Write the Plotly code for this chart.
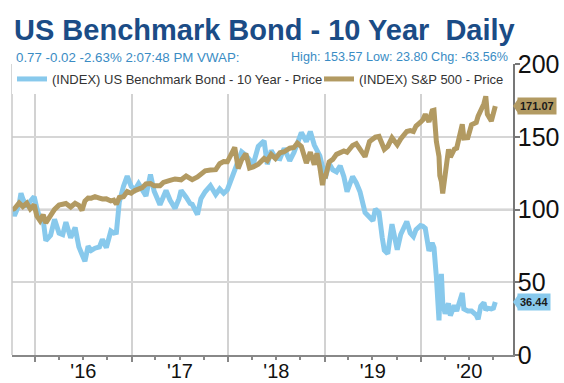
import plotly.graph_objects as go

# ---- data (normalised to 100 at start) ----
dates = [
    "2015-10-08", "2015-10-15", "2015-11-02", "2015-11-09", "2015-11-16", "2015-12-01", "2015-12-14", "2015-12-29",
    "2016-01-08", "2016-01-20", "2016-02-01", "2016-02-11", "2016-02-29", "2016-03-15", "2016-04-01", "2016-04-15",
    "2016-04-27", "2016-05-15", "2016-06-01", "2016-06-15", "2016-06-27", "2016-07-08", "2016-07-20", "2016-08-01",
    "2016-08-15", "2016-09-01", "2016-09-12", "2016-09-27", "2016-10-14", "2016-10-25", "2016-11-04", "2016-11-15",
    "2016-12-01", "2016-12-15", "2016-12-30",
    "2017-01-13", "2017-01-27", "2017-02-10", "2017-02-24", "2017-03-13", "2017-03-27", "2017-04-18", "2017-05-01",
    "2017-05-11", "2017-05-26", "2017-06-14", "2017-06-29", "2017-07-07", "2017-07-26", "2017-08-10", "2017-08-18",
    "2017-09-07", "2017-09-20", "2017-10-06", "2017-10-26", "2017-11-15", "2017-11-30", "2017-12-15", "2017-12-29",
    "2018-01-12", "2018-01-26", "2018-02-08", "2018-02-21", "2018-03-09", "2018-03-23", "2018-04-06", "2018-04-25",
    "2018-05-17", "2018-05-29", "2018-06-13", "2018-06-29", "2018-07-16", "2018-08-01", "2018-08-22", "2018-09-07",
    "2018-09-20", "2018-10-05", "2018-10-24", "2018-11-08", "2018-11-23", "2018-12-03", "2018-12-14", "2018-12-24",
    "2018-12-31",
    "2019-01-03", "2019-01-18", "2019-02-01", "2019-02-15", "2019-03-01", "2019-03-15", "2019-03-27", "2019-04-17",
    "2019-05-01", "2019-05-15", "2019-06-03", "2019-06-20", "2019-07-03", "2019-07-12", "2019-07-26", "2019-08-07",
    "2019-08-15", "2019-08-28", "2019-09-13", "2019-10-03", "2019-10-16", "2019-11-08", "2019-11-21", "2019-12-03",
    "2019-12-13", "2019-12-30",
    "2020-01-08", "2020-01-17", "2020-01-31", "2020-02-12", "2020-02-19", "2020-02-28", "2020-03-09", "2020-03-12",
    "2020-03-18", "2020-03-23", "2020-04-01", "2020-04-14", "2020-04-21", "2020-05-06", "2020-05-15", "2020-06-05",
    "2020-06-11", "2020-06-26", "2020-07-10", "2020-07-28", "2020-08-04", "2020-08-14", "2020-08-26", "2020-09-02",
    "2020-09-08", "2020-09-23", "2020-10-01", "2020-10-08",
]

bond_10y = [
    100.3, 95.6, 103.6, 111.2, 107.4, 101.7, 105.5, 108.8,
    100.8, 93.7, 92.8, 78.6, 82.3, 93.2, 83.8, 82.8,
    91.3, 80.5, 87.6, 74.3, 69.1, 64.4, 74.8, 71.9,
    73.4, 74.3, 79.5, 73.8, 85.2, 83.8, 84.2, 105.1,
    116.0, 123.0, 116.0,
    113.6, 117.8, 114.1, 109.3, 124.0, 112.6, 103.2, 109.8,
    113.1, 106.5, 100.8, 107.4, 113.1, 108.4, 104.1, 103.6,
    96.5, 107.4, 112.2, 116.4, 110.3, 114.1, 111.2, 113.6,
    120.7, 125.9, 133.9, 139.6, 137.2, 133.5, 131.1, 143.4,
    147.2, 131.1, 140.6, 135.4, 134.9, 142.0, 133.5, 139.1,
    145.3, 152.9, 146.7, 153.57, 144.3, 141.0, 136.8, 129.7,
    127.3,
    121.2, 131.6, 127.3, 125.9, 130.1, 122.6, 112.2, 122.6,
    118.3, 112.2, 98.0, 95.1, 92.3, 100.3, 98.0, 80.9,
    71.9, 69.6, 89.9, 72.4, 82.8, 91.8, 83.8, 81.4,
    86.1, 89.0,
    88.5, 87.1, 71.5, 77.1, 73.8, 53.5, 23.80, 40.2,
    55.8, 36.0, 28.4, 35.5, 27.0, 34.1, 30.3, 42.6,
    31.7, 30.3, 30.3, 27.4, 24.6, 33.6, 36.0, 30.8,
    32.2, 31.7, 32.2, 36.44,
]

sp500 = [
    100.0, 100.5, 104.5, 103.2, 102.0, 104.4, 100.4, 103.2,
    95.5, 92.3, 96.4, 90.8, 96.0, 100.1, 103.0, 103.4,
    104.1, 101.7, 104.3, 102.9, 99.4, 105.8, 107.9, 107.8,
    108.8, 107.8, 107.2, 107.3, 105.9, 106.4, 103.6, 108.3,
    108.8, 112.3, 111.2,
    113.0, 114.0, 115.0, 117.6, 117.9, 116.3, 116.3, 118.6,
    118.9, 120.0, 121.0, 120.1, 120.4, 123.0, 121.1, 120.5,
    122.4, 124.6, 126.6, 127.1, 127.4, 131.5, 132.9, 132.8,
    138.4, 142.7, 128.2, 134.1, 138.4, 128.5, 129.3, 131.1,
    135.1, 133.6, 137.9, 135.0, 139.0, 139.7, 142.1, 142.6,
    145.6, 143.3, 131.9, 139.4, 130.8, 138.6, 129.1, 116.8,
    124.5,
    121.6, 132.7, 134.4, 137.9, 139.3, 140.2, 139.3, 144.0,
    145.2, 141.6, 136.3, 146.7, 148.8, 149.7, 150.2, 143.2,
    141.4, 143.4, 149.3, 144.5, 148.5, 153.6, 154.2, 153.6,
    157.4, 160.0,
    161.6, 165.4, 160.2, 167.8, 168.2, 146.7, 136.4, 123.2,
    119.1, 111.1, 122.7, 141.4, 135.9, 141.5, 142.2, 158.6,
    149.1, 149.4, 158.2, 159.8, 164.2, 167.5, 172.7, 177.8,
    165.4, 160.8, 167.9, 171.07,
]

series_names = ["(INDEX) US Benchmark Bond - 10 Year - Price", "(INDEX) S&P 500 - Price"]
y_ticks = [0, 50, 100, 150, 200]
baseline = 100

title_text = "US Benchmark Bond - 10 Year\u00a0 Daily"
quote_left = "0.77 -0.02 -2.63% 2:07:48 PM VWAP:"
quote_right = "High: 153.57 Low: 23.80 Chg: -63.56%"

BLUE = "#88c9ec"
GOLD = "#b29a62"
FONT = "Liberation Sans, Arial, sans-serif"

fig = go.Figure()
fig.add_trace(go.Scatter(x=dates, y=bond_10y, mode="lines", name=series_names[0],
                         line=dict(color=BLUE, width=5), legendwidth=262))
fig.add_trace(go.Scatter(x=dates, y=sp500, mode="lines", name=series_names[1],
                         line=dict(color=GOLD, width=5)))

fig.update_layout(
    width=564, height=383,
    margin=dict(l=12, r=51, t=64, b=28),
    paper_bgcolor="white", plot_bgcolor="white",
    font=dict(family=FONT, color="#222"),
    showlegend=True,
    legend=dict(orientation="h", x=0.0, y=1.0, xanchor="left", yanchor="top",
                bgcolor="white", font=dict(size=13, color="#333"),
                itemwidth=30, borderwidth=0),
    title=dict(text="<b>" + title_text + "</b>", x=14 / 564, xref="container", xanchor="left",
               y=1 - 30 / 383, yref="container", yanchor="middle",
               font=dict(size=29, color="#1b4c86", family=FONT)),
)

fig.update_xaxes(
    type="date", range=["2015-10-06", "2020-12-14"], automargin=False,
    tick0="2016-01-01", dtick="M12", tickformat="'%y", ticklabelmode="period",
    showgrid=True, gridcolor="#d2d2d2", gridwidth=1.5,
    ticks="outside", ticklen=5, tickcolor="#888", tickwidth=1.5,
    minor=dict(dtick="M3", ticks="outside", ticklen=3, tickcolor="#888", showgrid=False),
    showline=True, linecolor="#888", linewidth=1.5,
    tickfont=dict(size=20, color="#111"), ticklabelstandoff=-8,
    zeroline=False,
)
fig.update_yaxes(
    side="right", range=[0, 200], tickvals=y_ticks, automargin=False,
    showgrid=True, gridcolor="#d6d6d6", gridwidth=1.5,
    ticks="outside", ticklen=5, tickcolor="#777", tickwidth=1.5,
    showline=True, linecolor="#777", linewidth=1.5,
    tickfont=dict(size=25, color="#111"), ticklabelstandoff=-7,
    zeroline=False,
)

# darker baseline at 100 and light left border
fig.add_shape(type="line", xref="paper", x0=0, x1=1, yref="y", y0=baseline, y1=baseline,
              line=dict(color="#9a9a9a", width=1.5), layer="below")
fig.add_shape(type="line", xref="paper", x0=0, x1=0, yref="paper", y0=0, y1=1,
              line=dict(color="#c8c8c8", width=1.5))

# quote header lines
fig.add_annotation(text=quote_left, xref="paper", yref="paper", x=0, y=1, xshift=2, yshift=7,
                   xanchor="left", yanchor="middle", showarrow=False,
                   font=dict(size=13.3, color="#3a8cc4"))
fig.add_annotation(text=quote_right, xref="paper", yref="paper", x=1, y=1, xshift=-3, yshift=7,
                   xanchor="right", yanchor="middle", showarrow=False,
                   font=dict(size=12.6, color="#3a8cc4"))

# last-value badges on the right axis
px = 1 / 501
for vals, col in [(sp500, GOLD), (bond_10y, BLUE)]:
    last = vals[-1]
    fig.add_annotation(text="<b>%.2f</b>" % last, xref="paper", yref="y", x=1, y=last,
                       xshift=4, xanchor="left", yanchor="middle", showarrow=False,
                       bgcolor=col, borderpad=2, font=dict(size=11, color="#1a1a1a"))
    h = 7 / 1.46
    fig.add_shape(type="path", xref="paper", yref="y",
                  path="M %f,%f L %f,%f L %f,%f Z" % (1 + 0 * px, last, 1 + 5 * px, last + h, 1 + 5 * px, last - h),
                  fillcolor=col, line=dict(width=0))

fig.write_html("out.html")
